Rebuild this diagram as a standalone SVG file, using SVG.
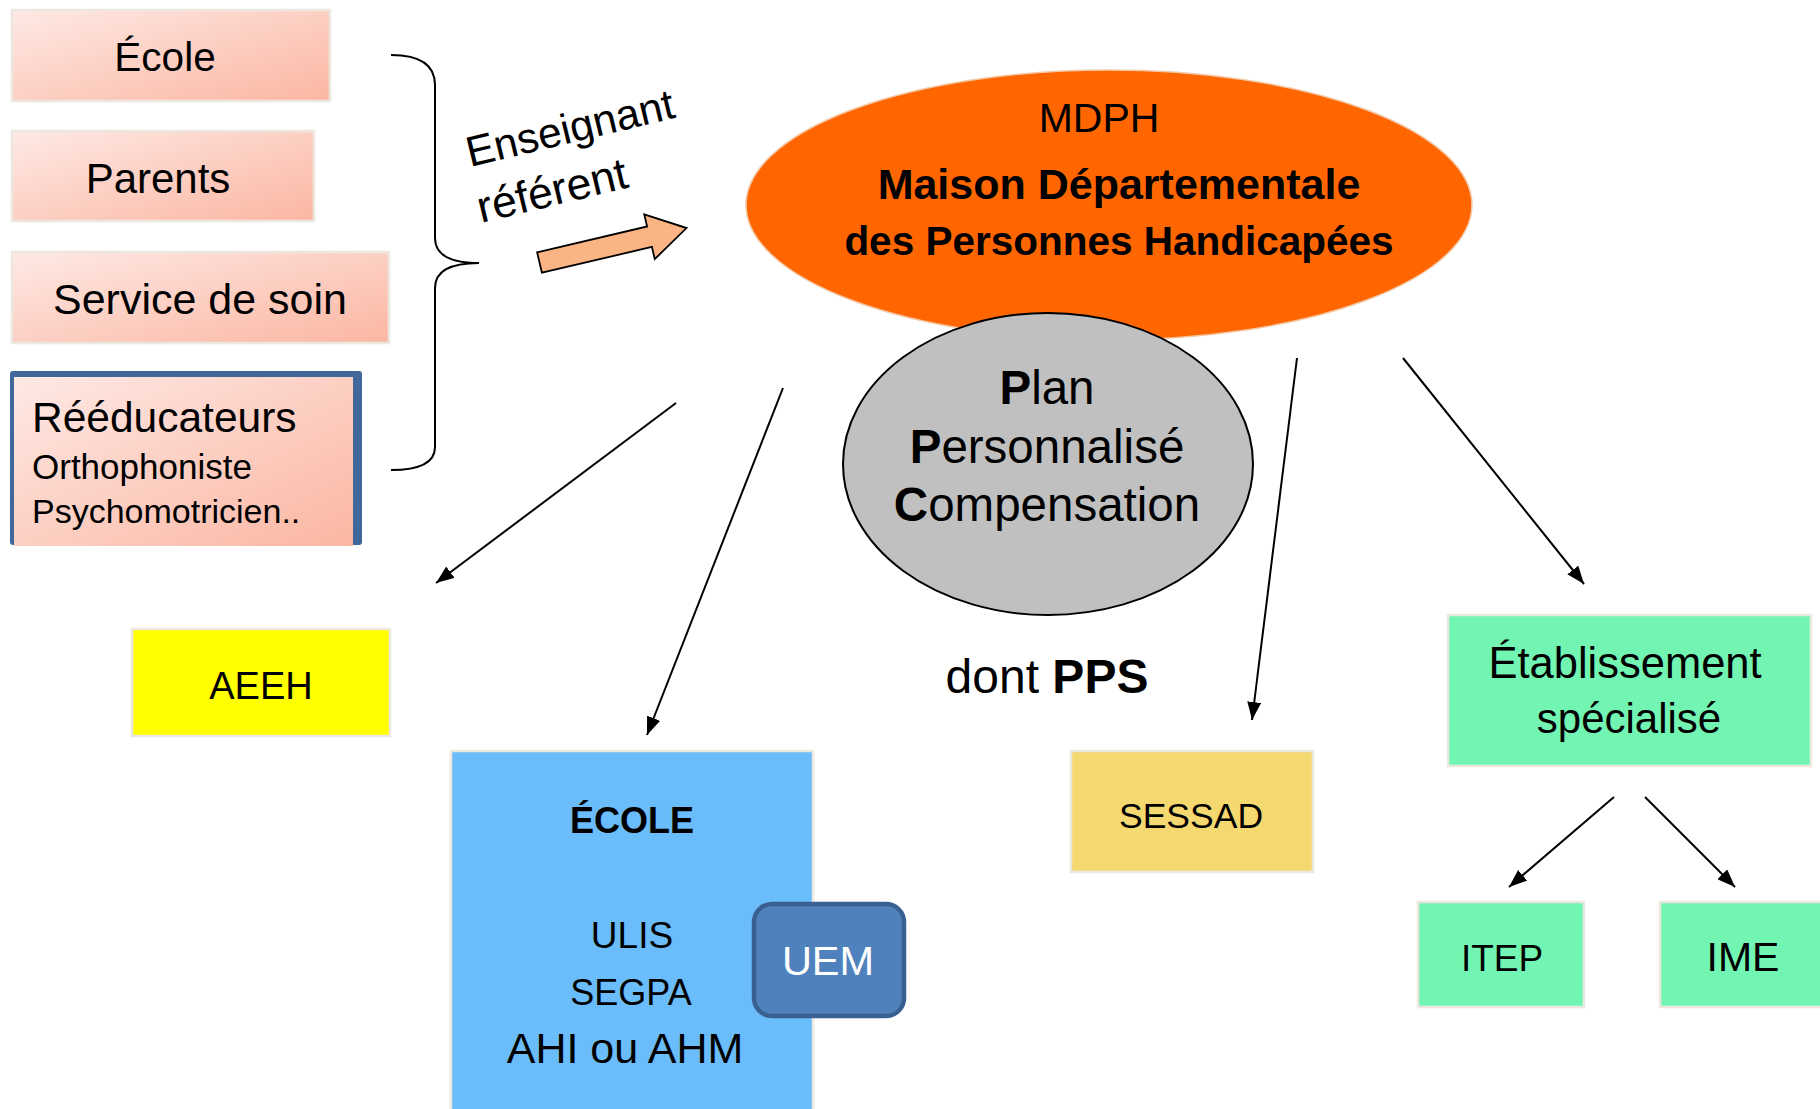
<svg xmlns="http://www.w3.org/2000/svg" width="1820" height="1109" viewBox="0 0 1820 1109">
<defs>
<linearGradient id="pink" x1="0" y1="0" x2="1" y2="1">
<stop offset="0" stop-color="#fee9e5"/>
<stop offset="1" stop-color="#fbb6a2"/>
</linearGradient>
<marker id="ah2" viewBox="0 0 18 14" refX="18" refY="7" markerWidth="18" markerHeight="14" markerUnits="userSpaceOnUse" orient="auto">
<path d="M0,0 L18,7 L0,14 Z" fill="#000"/>
</marker>
</defs>
<style>
.t{font-family:"Liberation Sans",Arial,sans-serif;fill:#000}
.a{font-family:"Liberation Sans",Arial,sans-serif;fill:#000}
.box{stroke:#ece8df;stroke-width:2.5}
.pk{fill:url(#pink)}
.cn{stroke:#000;stroke-width:2;fill:none;marker-end:url(#ah2)}
.c{text-anchor:middle}
</style>
<rect width="1820" height="1109" fill="#fff"/>

<g id="ecole-top"><rect class="box pk" x="12" y="10" width="318" height="91"/><text class="t c" x="165" y="71" font-size="40.5">École</text></g>
<g id="parents"><rect class="box pk" x="12" y="131" width="302" height="90"/><text class="t c" x="158" y="193" font-size="42">Parents</text></g>
<g id="service"><rect class="box pk" x="12" y="252" width="377" height="91"/><text class="t c" x="200" y="314" font-size="43">Service de soin</text></g>
<g id="reeducateurs">
<rect x="10" y="371" width="352" height="174" rx="3" fill="#41689b"/>
<rect x="14" y="377" width="339" height="169" class="pk"/>
<text class="t" x="32" y="432" font-size="42.5">Rééducateurs</text>
<text class="t" x="32" y="479" font-size="35">Orthophoniste</text>
<text class="t" x="32" y="523" font-size="34">Psychomotricien..</text>
</g>

<g id="brace"><path d="M391,55 C420,55 435,65 435,85 L435,238 C435,255 450,263 479,263 C450,263 435,271 435,288 L435,447 C435,462 420,470 391,470" fill="none" stroke="#000" stroke-width="2"/></g>

<g id="enseignant">
<text class="t" font-size="42.5" transform="translate(470,167) rotate(-13.5)">Enseignant</text>
<text class="t" font-size="44.5" transform="translate(481,223) rotate(-13.5)">référent</text>
<polygon transform="translate(539.5,262.5) rotate(-13.2)" points="0,-10.5 113,-10.5 113,-23 151,0 113,23 113,10.5 0,10.5" fill="#fbb584" stroke="#000" stroke-width="1.8"/>
</g>

<g id="mdph">
<ellipse cx="1109" cy="205" rx="363" ry="135" fill="#ff6600" stroke="#f4c9a8" stroke-width="1.5"/>
<text class="t c" x="1099" y="132" font-size="41">MDPH</text>
<text class="t c" x="1119" y="199" font-size="43" font-weight="bold">Maison Départementale</text>
<text class="t c" x="1119" y="255" font-size="40.5" font-weight="bold">des Personnes Handicapées</text>
</g>

<g id="ppc">
<ellipse cx="1048" cy="464" rx="205" ry="151" fill="#c0c0c0" stroke="#000" stroke-width="2"/>
<text class="a c" x="1047" y="404" font-size="47.5"><tspan font-weight="bold">P</tspan>lan</text>
<text class="a c" x="1047" y="463" font-size="47.5"><tspan font-weight="bold">P</tspan>ersonnalisé</text>
<text class="a c" x="1047" y="521" font-size="47.5"><tspan font-weight="bold">C</tspan>ompensation</text>
</g>
<g id="dont-pps"><text class="a c" x="1047" y="693" font-size="48">dont <tspan font-weight="bold">PPS</tspan></text></g>

<g id="connectors">
<line class="cn" x1="676" y1="403" x2="436" y2="583"/>
<line class="cn" x1="783" y1="388" x2="647" y2="735"/>
<line class="cn" x1="1297" y1="358" x2="1252" y2="720"/>
<line class="cn" x1="1403" y1="358" x2="1584" y2="584"/>
<line class="cn" x1="1614" y1="797" x2="1509" y2="887"/>
<line class="cn" x1="1645" y1="797" x2="1735" y2="887"/>
</g>

<g id="aeeh"><rect class="box" x="132" y="629" width="258" height="107" fill="#ffff00"/><text class="t c" x="261" y="699" font-size="38">AEEH</text></g>

<g id="ecole">
<rect class="box" x="451" y="751" width="362" height="370" fill="#6bbcfa"/>
<text class="t c" x="632" y="833" font-size="36" font-weight="bold">ÉCOLE</text>
<text class="t c" x="632" y="948" font-size="37">ULIS</text>
<text class="t c" x="631" y="1005" font-size="36">SEGPA</text>
<text class="t c" x="625" y="1063" font-size="43">AHI ou AHM</text>
</g>
<g id="uem"><rect x="754" y="904" width="150" height="112" rx="18" fill="#4f81bd" stroke="#3a6091" stroke-width="4.5"/><text class="t c" x="828" y="975" font-size="41.5" style="fill:#fff">UEM</text></g>

<g id="sessad"><rect class="box" x="1071" y="751" width="242" height="121" fill="#f5d86f"/><text class="t c" x="1191" y="828" font-size="35.5">SESSAD</text></g>

<g id="etablissement"><rect class="box" x="1448" y="615" width="363" height="151" fill="#72f5b2"/>
<text class="t c" x="1625" y="678" font-size="43.5">Établissement</text>
<text class="t c" x="1629" y="733" font-size="42">spécialisé</text></g>

<g id="itep"><rect class="box" x="1418" y="902" width="166" height="105" fill="#72f5b2"/><text class="t c" x="1502" y="971" font-size="37">ITEP</text></g>
<g id="ime"><rect class="box" x="1660" y="902" width="170" height="105" fill="#72f5b2"/><text class="t c" x="1743" y="971" font-size="41">IME</text></g>
</svg>
